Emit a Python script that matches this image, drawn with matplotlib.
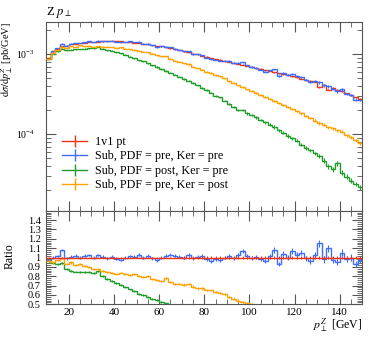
import numpy as np
import matplotlib
matplotlib.use("Agg")
import matplotlib.pyplot as plt
from matplotlib.ticker import MultipleLocator, FixedLocator, FixedFormatter, LogLocator, NullFormatter
from matplotlib.lines import Line2D
from matplotlib.legend_handler import HandlerTuple

plt.rcParams['font.family'] = ['Liberation Serif', 'DejaVu Serif']
plt.rcParams['mathtext.fontset'] = 'stix'

# ---- data (pb/GeV, in units of 1e-4), 2 GeV bins from 10 to 150 GeV ----
bin_edges = np.arange(10, 152, 2)

ref_1v1 = [9.05, 10.8, 11.7, 12.5, 12.8, 13.3, 13.5, 13.8, 13.85, 14.1,
           14.15, 14.35, 14.4, 14.55, 14.6, 14.5, 14.45, 14.2, 14.15, 13.9,
           13.8, 13.5, 13.25, 13.05, 12.65, 12.5, 12.1, 11.85, 11.45, 11.2,
           10.8, 10.5, 10.15, 9.9, 9.5, 9.25, 8.95, 8.7, 8.5, 8.2,
           8.0, 7.8, 7.55, 7.4, 7.1, 6.95, 6.7, 6.55, 6.3, 6.15,
           5.95, 5.8, 5.6, 5.5, 5.3, 5.15, 4.95, 4.8, 4.65, 4.5,
           3.85, 4.15, 3.6, 3.8, 3.6, 3.45, 3.25, 3.1, 2.9, 2.75]

sub_pre_pre = [8.78, 10.8, 11.93, 13.5, 12.67, 13.43, 13.77, 13.8, 14.13, 14.52,
               14.15, 14.78, 14.54, 14.40, 14.75, 14.21, 14.02, 14.2, 14.43, 14.04,
               14.21, 13.5, 13.52, 12.92, 12.27, 12.5, 12.34, 12.21, 11.68, 11.31,
               10.8, 10.82, 10.05, 10.0, 9.69, 9.07, 8.59, 8.53, 8.25, 8.2,
               8.16, 7.72, 7.78, 7.92, 7.24, 6.88, 6.77, 6.42, 6.05, 6.27,
               6.43, 5.39, 5.82, 5.5, 5.67, 5.30, 5.20, 4.75, 4.46, 4.64,
               4.43, 4.07, 3.96, 3.69, 3.42, 3.62, 3.19, 3.1, 2.70, 2.67]

sub_post_pre = [8.71, 10.12, 10.84, 11.75, 11.22, 11.35, 11.48, 11.61, 11.75, 11.89,
                11.85, 12.30, 11.61, 11.22, 10.96, 10.59, 10.23, 9.77, 9.33, 8.91,
                8.41, 8.13, 7.67, 7.24, 6.92, 6.53, 6.17, 5.89, 5.56, 5.25,
                4.90, 4.68, 4.37, 4.07, 3.80, 3.55, 3.31, 3.02, 2.88, 2.63,
                2.40, 2.19, 2.00, 2.02, 1.82, 1.74, 1.62, 1.51, 1.41, 1.32,
                1.23, 1.12, 1.05, 0.955, 0.891, 0.832, 0.741, 0.676, 0.631, 0.575,
                0.537, 0.468, 0.398, 0.363, 0.437, 0.331, 0.295, 0.263, 0.240, 0.219]

sub_pre_post = [8.71, 10.23, 11.35, 12.45, 11.89, 12.59, 12.45, 12.88, 12.59, 12.68,
                12.45, 12.59, 12.39, 12.36, 12.25, 12.02, 12.13, 11.64, 11.48, 11.40,
                11.04, 10.67, 10.59, 10.05, 9.62, 9.38, 9.44, 8.77, 8.24, 8.05,
                7.66, 7.55, 7.00, 6.64, 6.37, 6.01, 5.82, 5.48, 5.26, 5.00,
                4.63, 4.37, 4.07, 3.85, 3.63, 3.47, 3.27, 3.09, 2.92, 2.75,
                2.60, 2.45, 2.32, 2.19, 2.07, 1.95, 1.82, 1.70, 1.58, 1.48,
                1.38, 1.32, 1.22, 1.19, 1.12, 1.08, 0.977, 0.912, 0.841, 0.776]

# relative statistical uncertainties, one value per 10 bins
ref_relerr = [0.008, 0.008, 0.009, 0.011, 0.013, 0.016, 0.02]
pp_relerr = [0.012, 0.012, 0.014, 0.017, 0.021, 0.027, 0.035]
postpre_relerr = [0.012, 0.013, 0.018, 0.025, 0.035, 0.05, 0.07]
prepost_relerr = [0.012, 0.012, 0.015, 0.019, 0.025, 0.033, 0.045]

labels = ['1v1 pt', 'Sub, PDF = pre, Ker = pre',
          'Sub, PDF = post, Ker = pre', 'Sub, PDF = pre, Ker = post']
colors = ['#EE3311', '#3F6EFF', '#1E9E28', '#FFA200']

ratio_ticks = [0.5, 0.6, 0.7, 0.8, 0.9, 1.0, 1.1, 1.2, 1.3, 1.4]
ratio_ticklabels = ['0.5', '0.6', '0.7', '0.8', '0.9', '1', '1.1', '1.2', '1.3', '1.4']

# ---- figure ----
fig = plt.figure(figsize=(3.74, 3.37), dpi=100)
L, W = 46.3 / 374, 316.0 / 374
ax = fig.add_axes([L, 1 - 210.7 / 337, W, 189.0 / 337])
rax = fig.add_axes([L, 1 - 304.3 / 337, W, 93.6 / 337])

centers = 0.5 * (bin_edges[:-1] + bin_edges[1:])
series = [ref_1v1, sub_pre_pre, sub_post_pre, sub_pre_post]
relerrs = [ref_relerr, pp_relerr, postpre_relerr, prepost_relerr]
ref = np.array(ref_1v1) * 1e-4

handles = []
for i, (vals, rel, c, lab) in enumerate(zip(series, relerrs, colors, labels)):
    v = np.array(vals) * 1e-4
    e = v * np.repeat(rel, 10)
    z = 2 + i
    ax.stairs(v, bin_edges, color=c, lw=1.0, zorder=z, baseline=None)
    ax.errorbar(centers, v, yerr=e, fmt='none', ecolor=c, elinewidth=0.8, zorder=z)
    r = v / ref
    re = e / ref
    rz = 10 if i == 0 else z
    rax.stairs(r, bin_edges, color=c, lw=1.0, zorder=rz, baseline=None)
    rax.errorbar(centers, r, yerr=re, fmt='none', ecolor=c, elinewidth=0.8, zorder=rz)
    h = (Line2D([], [], color=c, lw=1.0),
         Line2D([], [], color=c, marker='|', markersize=8, markeredgewidth=1.0, linestyle='none'))
    handles.append(h)

ax.set_yscale('log')
ax.set_xlim(10, 150)
ax.set_ylim(1.11e-5, 2.54e-3)
rax.set_xlim(10, 150)
rax.set_ylim(0.5, 1.5)

spine_c = '#555555'
for a in (ax, rax):
    for s in a.spines.values():
        s.set_color(spine_c)
        s.set_linewidth(0.8)
    a.tick_params(which='both', direction='in', top=True, right=True, colors=spine_c,
                  labelcolor='black', labelsize=8)
    a.tick_params(which='major', length=7.2, width=0.8)
    a.tick_params(which='minor', length=3.6, width=0.6)
    a.xaxis.set_major_locator(MultipleLocator(20))
    a.xaxis.set_minor_locator(MultipleLocator(5))

ax.tick_params(axis='x', labelbottom=False)
ax.yaxis.set_major_locator(LogLocator(base=10, numticks=10))
ax.yaxis.set_minor_locator(LogLocator(base=10, subs=np.arange(2, 10), numticks=20))
ax.yaxis.set_minor_formatter(NullFormatter())
ax.tick_params(axis='y', which='major', pad=8, labelsize=7)

rax.yaxis.set_major_locator(FixedLocator(ratio_ticks))
rax.yaxis.set_major_formatter(FixedFormatter(ratio_ticklabels))
rax.yaxis.set_minor_locator(MultipleLocator(0.02))
rax.tick_params(axis='y', which='major', pad=4, labelsize=7.5)
rax.tick_params(axis='x', which='major', pad=3)

leg = ax.legend(handles, labels, loc='upper left', bbox_to_anchor=(0.05, 0.395),
                frameon=False, fontsize=8.7, borderpad=0, borderaxespad=0,
                handlelength=2.1, handletextpad=0.6, labelspacing=0.2,
                handler_map={tuple: HandlerTuple(ndivide=1)})

fig.text(L, 1 - 13 / 337, r'Z $p_\perp$', ha='left', va='center', fontsize=9)
fig.text(7.5 / 374, 1 - 22.5 / 337, r'$\mathrm{d}\sigma/\mathrm{d}p_\perp^Z$ [pb/GeV]',
         rotation=90, ha='center', va='top', fontsize=7.5)
fig.text(10 / 374, 1 - 256 / 337, 'Ratio', rotation=90, ha='center', va='center', fontsize=8.5)
fig.text(362 / 374, 1 - 326 / 337, r'$p_\perp^Z$ [GeV]', ha='right', va='center', fontsize=8.5)

fig.savefig('out.png', dpi=100)
